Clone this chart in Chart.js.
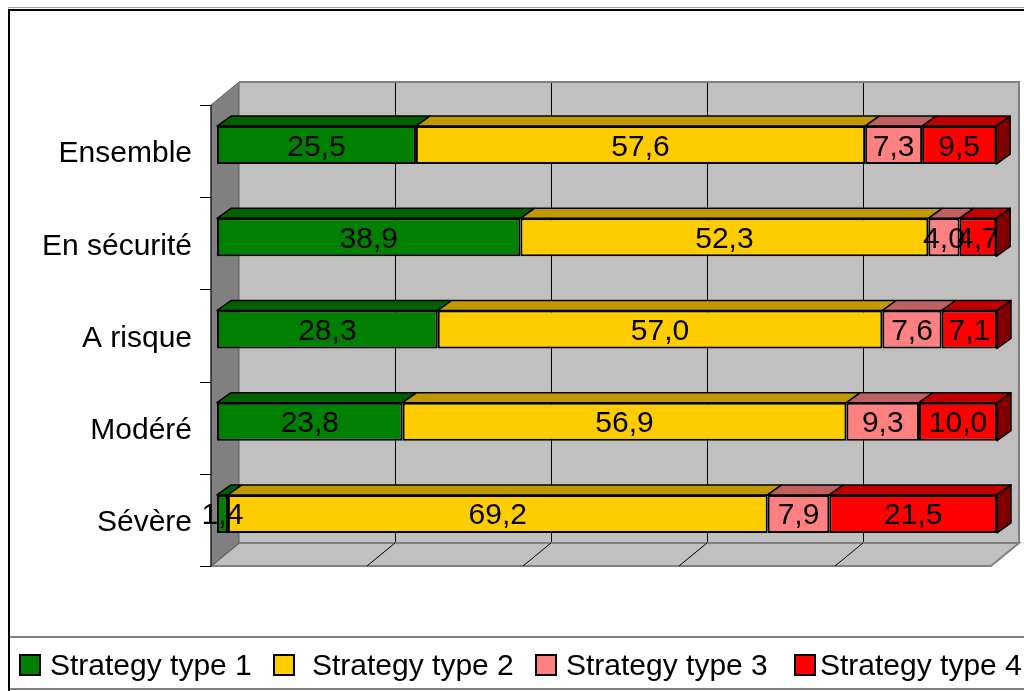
<!DOCTYPE html>
<html>
<head>
<meta charset="utf-8">
<script src="https://cdn.jsdelivr.net/npm/chart.js@4"></script>
<style>
  html, body { margin: 0; padding: 0; background: #fff; }
  #wrap { width: 1024px; height: 691px; }
</style>
</head>
<body>
<div id="wrap"><canvas id="chart" width="1024" height="691"></canvas></div>
<script>
const categories = ['Ensemble', 'En sécurité', 'A risque', 'Modéré', 'Sévère'];
const type1 = [25.5, 38.9, 28.3, 23.8, 1.4];
const type2 = [57.6, 52.3, 57.0, 56.9, 69.2];
const type3 = [7.3, 4.0, 7.6, 9.3, 7.9];
const type4 = [9.5, 4.7, 7.1, 10.0, 21.5];
const seriesNames = ['Strategy type 1', 'Strategy type 2', 'Strategy type 3', 'Strategy type 4'];
const gridValues = [0, 20, 40, 60, 80, 100];

const frontColors = ['#008000', '#FFCC00', '#FF8080', '#FF0000'];
const topColors = ['#006000', '#C09900', '#C06060', '#C00000'];
const sideColors = ['#004000', '#806600', '#804040', '#800000'];

const FONT = '"Liberation Sans", Arial, sans-serif';
// oblique 3D offsets (px)
const WALL_FRONT = { x: -6, y: 6 };   // wall front plane relative to bar fronts
const WALL_DEPTH = { x: 28, y: -23 };
const BAR_DEPTH = { x: 14, y: -10 };

// the grey box behind the bars: back wall, floor, side wall
const walls3d = {
  id: 'walls3d',
  beforeDatasetsDraw(chart) {
    const { ctx, chartArea: a, scales: { x, y } } = chart;
    const fl = x.getPixelForValue(0) + WALL_FRONT.x;
    const fr = x.getPixelForValue(100) + WALL_FRONT.x;
    const ft = a.top + WALL_FRONT.y, fb = a.bottom + WALL_FRONT.y;
    const bl = fl + WALL_DEPTH.x, br = fr + WALL_DEPTH.x;
    const bt = ft + WALL_DEPTH.y, bb = fb + WALL_DEPTH.y;
    ctx.save();

    // back wall
    ctx.fillStyle = '#C0C0C0';
    ctx.fillRect(bl, bt, br - bl, bb - bt);
    ctx.strokeStyle = '#000';
    ctx.lineWidth = 1;
    gridValues.slice(1, -1).forEach(v => {
      const px = Math.round(x.getPixelForValue(v) + WALL_FRONT.x + WALL_DEPTH.x) + 0.5;
      ctx.beginPath();
      ctx.moveTo(px, bt);
      ctx.lineTo(px, bb);
      ctx.stroke();
    });
    ctx.strokeStyle = '#808080';
    ctx.lineWidth = 2;
    ctx.beginPath();
    ctx.moveTo(bl, bt);
    ctx.lineTo(br, bt);
    ctx.lineTo(br, bb);
    ctx.stroke();

    // floor
    ctx.fillStyle = '#C0C0C0';
    ctx.beginPath();
    ctx.moveTo(fl, fb);
    ctx.lineTo(bl, bb);
    ctx.lineTo(br, bb);
    ctx.lineTo(fr, fb);
    ctx.closePath();
    ctx.fill();
    ctx.stroke();
    ctx.strokeStyle = '#000';
    ctx.lineWidth = 1;
    gridValues.slice(1, -1).forEach(v => {
      const px = x.getPixelForValue(v) + WALL_FRONT.x;
      ctx.beginPath();
      ctx.moveTo(px, fb);
      ctx.lineTo(px + WALL_DEPTH.x, bb);
      ctx.stroke();
    });

    // left side wall
    ctx.fillStyle = '#808080';
    ctx.beginPath();
    ctx.moveTo(fl, ft);
    ctx.lineTo(bl, bt);
    ctx.lineTo(bl, bb);
    ctx.lineTo(fl, fb);
    ctx.closePath();
    ctx.fill();
    ctx.strokeStyle = '#606060';
    ctx.stroke();
    ctx.strokeStyle = '#000';
    ctx.beginPath();
    ctx.moveTo(fl, ft);
    ctx.lineTo(fl, fb);
    ctx.stroke();

    // category tick marks
    for (let i = 0; i <= categories.length; i++) {
      const py = Math.round(y.getPixelForValue(i - 0.5) + WALL_FRONT.y) + 0.5;
      ctx.beginPath();
      ctx.moveTo(fl - 11, py);
      ctx.lineTo(fl, py);
      ctx.stroke();
    }
    ctx.restore();
  }
};

// top / side faces of the bars, then the value labels
const bars3d = {
  id: 'bars3d',
  afterDatasetsDraw(chart) {
    const ctx = chart.ctx;
    const last = chart.data.datasets.length - 1;
    ctx.save();
    ctx.lineJoin = 'round';
    chart.data.datasets.forEach((ds, di) => {
      chart.getDatasetMeta(di).data.forEach(bar => {
        const p = bar.getProps(['x', 'y', 'base', 'height'], true);
        const left = Math.min(p.base, p.x), right = Math.max(p.base, p.x);
        const top = p.y - p.height / 2, bottom = p.y + p.height / 2;
        ctx.fillStyle = topColors[di];
        ctx.strokeStyle = '#000';
        ctx.lineWidth = 1.5;
        ctx.beginPath();
        ctx.moveTo(left, top);
        ctx.lineTo(left + BAR_DEPTH.x, top + BAR_DEPTH.y);
        ctx.lineTo(right + BAR_DEPTH.x, top + BAR_DEPTH.y);
        ctx.lineTo(right, top);
        ctx.closePath();
        ctx.fill();
        ctx.stroke();
        if (di === last) {
          ctx.fillStyle = sideColors[di];
          ctx.beginPath();
          ctx.moveTo(right, top);
          ctx.lineTo(right + BAR_DEPTH.x, top + BAR_DEPTH.y);
          ctx.lineTo(right + BAR_DEPTH.x, bottom + BAR_DEPTH.y);
          ctx.lineTo(right, bottom);
          ctx.closePath();
          ctx.fill();
          ctx.stroke();
        }
      });
    });

    ctx.fillStyle = '#000';
    ctx.font = '30px ' + FONT;
    ctx.textAlign = 'center';
    ctx.textBaseline = 'alphabetic';
    chart.data.datasets.forEach((ds, di) => {
      chart.getDatasetMeta(di).data.forEach((bar, i) => {
        const p = bar.getProps(['x', 'y', 'base'], true);
        const txt = ds.data[i].toFixed(1).replace('.', ',');
        ctx.fillText(txt, (p.x + p.base) / 2, p.y + 10.5);
      });
    });
    ctx.restore();
  }
};

// outer frame and bottom legend
const frameLegend = {
  id: 'frameLegend',
  afterDraw(chart) {
    const ctx = chart.ctx;
    ctx.save();
    ctx.strokeStyle = '#A0A0A0';
    ctx.lineWidth = 1;
    ctx.beginPath();
    ctx.moveTo(8, 7.5);
    ctx.lineTo(1024, 7.5);
    ctx.stroke();
    ctx.strokeStyle = '#000';
    ctx.lineWidth = 2;
    ctx.strokeRect(9, 10, 1100, 1000);
    ctx.strokeStyle = '#808080';
    ctx.beginPath();
    ctx.moveTo(10, 637);
    ctx.lineTo(1024, 637);
    ctx.moveTo(10, 689);
    ctx.lineTo(1024, 689);
    ctx.stroke();

    ctx.font = '30px ' + FONT;
    ctx.textAlign = 'left';
    ctx.textBaseline = 'alphabetic';
    const starts = [20, 274, 536, 795];
    const gaps = [30, 38, 30, 25];
    chart.data.datasets.forEach((ds, di) => {
      const sx = starts[di];
      ctx.fillStyle = ds.backgroundColor;
      ctx.fillRect(sx, 655, 20, 20);
      ctx.strokeStyle = '#000';
      ctx.lineWidth = 2;
      ctx.strokeRect(sx, 655, 20, 20);
      ctx.fillStyle = '#000';
      ctx.fillText(ds.label, sx + gaps[di], 675);
    });
    ctx.restore();
  }
};

const seriesData = [type1, type2, type3, type4];
const datasets = seriesData.map((d, i) => ({
  label: seriesNames[i],
  data: d,
  backgroundColor: frontColors[i],
  borderColor: '#000',
  borderWidth: 2,
  borderSkipped: false,
  barPercentage: 0.412,
  categoryPercentage: 1
}));

const ctx = document.getElementById('chart').getContext('2d');
const chart = new Chart(ctx, {
  type: 'bar',
  data: { labels: categories, datasets: datasets },
  options: {
    indexAxis: 'y',
    responsive: false,
    devicePixelRatio: 1,
    animation: false,
    layout: { padding: { left: 10, right: 27, top: 99, bottom: 131 } },
    plugins: {
      legend: { display: false },
      tooltip: { enabled: false },
      title: { display: false }
    },
    scales: {
      x: {
        stacked: true,
        display: false,
        min: 0,
        max: 100
      },
      y: {
        stacked: true,
        grid: { display: false, drawTicks: false },
        border: { display: false },
        ticks: {
          color: '#000',
          font: { family: FONT, size: 30 },
          padding: 25,
          labelOffset: 9
        },
        afterFit(scale) { scale.width = 207; }
      }
    }
  },
  plugins: [walls3d, bars3d, frameLegend]
});
</script>
</body>
</html>
